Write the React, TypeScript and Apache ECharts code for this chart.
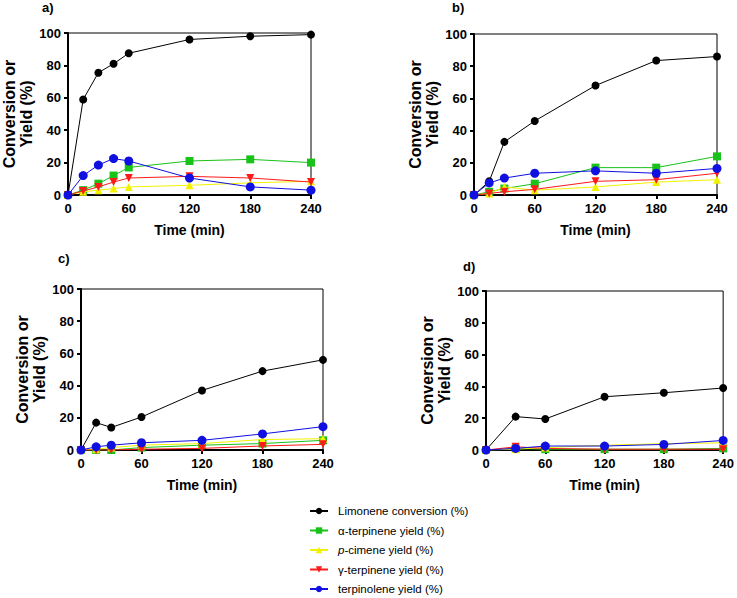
import React, { useEffect, useRef } from "react";
import * as echarts from "echarts";

const TIME_A = [0, 15, 30, 45, 60, 120, 180, 240];
const TIME_B = [0, 15, 30, 60, 120, 180, 240];
const TIME_C = [0, 15, 30, 60, 120, 180, 240];
const TIME_D = [0, 30, 60, 120, 180, 240];

const A_LIMONENE = [0, 59, 75.5, 81, 87.5, 96, 98, 99];
const A_ALPHA = [0, 3, 7, 12, 17, 21, 22, 20];
const A_PCYM = [0, 2, 3, 4, 5, 6, 7.5, 8.5];
const A_GAMMA = [0, 2.5, 5, 8, 10.5, 11.5, 10.5, 8];
const A_TERPINOLENE = [0, 12, 18.5, 22.5, 21, 10.5, 5, 3];

const B_LIMONENE = [0, 8.5, 33, 46, 68, 83.5, 86];
const B_ALPHA = [0, 2, 4, 7, 17, 17, 24];
const B_PCYM = [0, 1, 5, 3, 5, 8, 9.5];
const B_GAMMA = [0, 1, 2, 3.5, 8.5, 9.5, 13.5];
const B_TERPINOLENE = [0, 7.5, 10.5, 13.5, 15, 13.5, 16.5];

const C_LIMONENE = [0, 17, 14, 20.5, 37, 49, 56];
const C_ALPHA = [0, 0, 0, 1.5, 3, 4, 6];
const C_PCYM = [0, 0.5, 1.5, 3, 4, 6.5, 7];
const C_GAMMA = [0, 0, 0, 0.5, 1, 2.5, 3.5];
const C_TERPINOLENE = [0, 2, 3, 4.5, 6, 10, 14.5];

const D_LIMONENE = [0, 21, 19.5, 33.5, 36, 39];
const D_ALPHA = [0, 1, 0.5, 0.5, 0.5, 1];
const D_PCYM = [0, 0.5, 1.5, 3, 4, 4.5];
const D_GAMMA = [0, 2, 1, 0.5, 0.5, 0.5];
const D_TERPINOLENE = [0, 1, 2.5, 2.5, 3.5, 6];

const SERIES_NAMES = [
  "Limonene conversion (%)",
  "α-terpinene yield (%)",
  "p-cimene yield (%)",
  "γ-terpinene yield (%)",
  "terpinolene yield (%)",
];
const PANEL_LABELS = ["a)", "b)", "c)", "d)"];
const X_TICK_MAX = 240;
const Y_TICK_MAX = 100;

const FONT = "'Liberation Sans', Arial, sans-serif";

const STYLES = [
  { color: "#000000", symbol: "circle", size: 8 },
  { color: "#19c219", symbol: "rect", size: 8 },
  { color: "#f2f200", symbol: "triangle", size: 8 },
  { color: "#ff1a1a", symbol: "path://M0,0L10,0L5,9Z", size: 8 },
  { color: "#1010e0", symbol: "circle", size: 9 },
];

const PANELS = [
  { t: TIME_A, ys: [A_LIMONENE, A_ALPHA, A_PCYM, A_GAMMA, A_TERPINOLENE] },
  { t: TIME_B, ys: [B_LIMONENE, B_ALPHA, B_PCYM, B_GAMMA, B_TERPINOLENE] },
  { t: TIME_C, ys: [C_LIMONENE, C_ALPHA, C_PCYM, C_GAMMA, C_TERPINOLENE] },
  { t: TIME_D, ys: [D_LIMONENE, D_ALPHA, D_PCYM, D_GAMMA, D_TERPINOLENE] },
];

const GRIDS = [
  { left: 68, top: 33, width: 243, height: 162 },
  { left: 474, top: 34, width: 243, height: 161 },
  { left: 81, top: 289, width: 242, height: 161 },
  { left: 486, top: 291, width: 240, height: 159 },
];

const LABEL_POS = [
  { x: 42, y: 1 },
  { x: 452, y: 1 },
  { x: 58, y: 252 },
  { x: 463, y: 260 },
];

export default function App() {
  const ref = useRef<HTMLDivElement>(null);
  useEffect(() => {
    if (!ref.current) return;
    const chart = echarts.init(ref.current, undefined, { renderer: "svg" });

    const grid = GRIDS.map((g) => ({
      ...g,
      show: true,
      borderColor: "#000",
      borderWidth: 1,
      backgroundColor: "transparent",
      containLabel: false,
    }));

    const xAxis = GRIDS.map((_, i) => ({
      type: "value",
      gridIndex: i,
      min: 0,
      max: X_TICK_MAX,
      interval: 60,
      name: "Time (min)",
      nameLocation: "middle",
      nameGap: 28,
      nameTextStyle: { fontFamily: FONT, fontWeight: "bold", fontSize: 14, color: "#000" },
      axisLine: { show: true, onZero: false, lineStyle: { color: "#000", width: 2 } },
      axisTick: { show: true, inside: false, length: 4, lineStyle: { color: "#000", width: 2 } },
      axisLabel: { fontFamily: FONT, fontWeight: "bold", fontSize: 13, color: "#000", margin: 7 },
      splitLine: { show: false },
    }));

    const yAxis = GRIDS.map((_, i) => ({
      type: "value",
      gridIndex: i,
      min: 0,
      max: Y_TICK_MAX,
      interval: 20,
      name: "Conversion or\nYield (%)",
      nameLocation: "middle",
      nameRotate: 90,
      nameGap: 27,
      nameTextStyle: {
        fontFamily: FONT,
        fontWeight: "bold",
        fontSize: 16,
        color: "#000",
        lineHeight: 17,
      },
      axisLine: { show: true, onZero: false, lineStyle: { color: "#000", width: 2 } },
      axisTick: { show: true, inside: false, length: 4, lineStyle: { color: "#000", width: 2 } },
      axisLabel: { fontFamily: FONT, fontWeight: "bold", fontSize: 13, color: "#000", margin: 7 },
      splitLine: { show: false },
    }));

    const series: any[] = [];
    PANELS.forEach((p, pi) => {
      p.ys.forEach((vals, si) => {
        const st = STYLES[si];
        series.push({
          type: "line",
          name: SERIES_NAMES[si],
          xAxisIndex: pi,
          yAxisIndex: pi,
          data: p.t.map((t, k) => [t, vals[k]]),
          symbol: st.symbol,
          symbolSize: st.size,
          showAllSymbol: true,
          itemStyle: { color: st.color },
          lineStyle: { color: st.color, width: 1 },
          z: 2 + si,
        });
      });
    });

    chart.setOption({
      animation: false,
      backgroundColor: "#fff",
      grid,
      xAxis,
      yAxis,
      series,
      legend: {
        data: SERIES_NAMES,
        orient: "vertical",
        left: 309,
        top: 505,
        height: 150,
        padding: 0,
        itemWidth: 18,
        itemHeight: 8,
        itemGap: 7.5,
        formatter: (name: string) =>
          name.startsWith("p-") ? "{i|p}-cimene yield (%)" : name,
        textStyle: {
          fontFamily: FONT,
          fontSize: 11.5,
          color: "#000",
          padding: [0, 0, 0, 5],
          rich: {
            i: { fontFamily: FONT, fontSize: 11.5, fontStyle: "italic", color: "#000" },
          },
        },
      },
      graphic: PANEL_LABELS.map((txt, i) => ({
        type: "text",
        x: LABEL_POS[i].x,
        y: LABEL_POS[i].y,
        style: {
          text: txt,
          font: `bold 13px ${FONT}`,
          fill: "#000",
        },
      })),
    });

    return () => chart.dispose();
  }, []);

  return (
    <div
      ref={ref}
      style={{ position: "absolute", left: 0, top: 0, width: 737, height: 598 }}
    />
  );
}
